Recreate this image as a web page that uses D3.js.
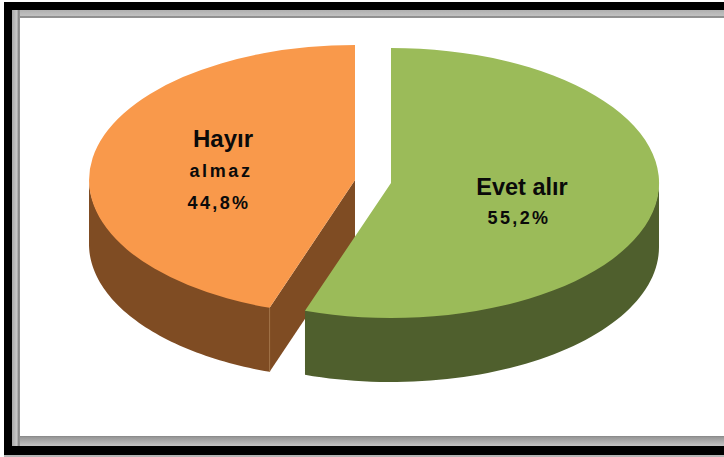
<!DOCTYPE html>
<html>
<head>
<meta charset="utf-8">
<script src="https://cdn.jsdelivr.net/npm/d3@7"></script>
<style>
  html, body { margin: 0; padding: 0; background: #fff; }
  svg { display: block; }
  text { font-family: "Liberation Sans", Arial, sans-serif; font-weight: bold; fill: #0a0a0a; text-anchor: middle; }
</style>
</head>
<body>
<div id="chart"></div>
<script>
var categories = ["Evet alır", "Hayır almaz"];
var shares = [55.2, 44.8];
var shareLabels = ["55,2%", "44,8%"];

var width = 724, height = 457;
var depth = 64, ry = 135;
// exploded slices, each has its own centre
var centres = [{x: 391, y: 183, rx: 268}, {x: 355, y: 180, rx: 266}];
var topColors = ["#9bbb59", "#f9994b"];
var sideColors = ["#4f5f2d", "#7f4c23"];

var svg = d3.select("#chart").append("svg")
    .attr("width", width)
    .attr("height", height);

var defs = svg.append("defs");

function grad(id, x2, y2, stops) {
  var g = defs.append("linearGradient").attr("id", id)
      .attr("x1", 0).attr("y1", 0).attr("x2", x2).attr("y2", y2);
  stops.forEach(function(s) {
    g.append("stop").attr("offset", s[0]).attr("stop-color", s[1]);
  });
}
grad("bevelTop", 0, 1, [[0, "#b0b0b0"], [0.7, "#c0c0c0"], [0.85, "#7f7f7f"], [1, "#a0a0a0"]]);
grad("bevelLeft", 1, 0, [[0, "#a8a8a8"], [0.6, "#c8c8c8"], [0.85, "#7f7f7f"], [1, "#a0a0a0"]]);
grad("bevelBottom", 0, 1, [[0, "#858585"], [0.15, "#989898"], [1, "#c4c4c4"]]);

// frame
svg.append("rect").attr("x", 4).attr("y", 2).attr("width", width).attr("height", 453).attr("fill", "#000");
svg.append("rect").attr("x", 4).attr("y", 455).attr("width", width).attr("height", 2).attr("fill", "#b5b5b5");
svg.append("rect").attr("x", 12).attr("y", 10).attr("width", width).attr("height", 436).attr("fill", "#b8b8b8");
svg.append("rect").attr("x", 12).attr("y", 10).attr("width", width).attr("height", 8).attr("fill", "url(#bevelTop)");
svg.append("rect").attr("x", 12).attr("y", 10).attr("width", 8).attr("height", 436).attr("fill", "url(#bevelLeft)");
svg.append("rect").attr("x", 20).attr("y", 436).attr("width", width).attr("height", 10).attr("fill", "url(#bevelBottom)");
svg.append("rect").attr("x", 20).attr("y", 18).attr("width", width).attr("height", 418).attr("fill", "#fff");

var pie = d3.pie().sort(null)(shares);

var arc = d3.arc().innerRadius(0).outerRadius(1);

function ex(c, a) { return c.x + c.rx * Math.sin(a); }
function ey(c, a) { return c.y - ry * Math.cos(a); }

// outer wall, only the front half of the ellipse shows
// starts a bit above the rim so no white seam shows under the top
var wall = d3.area()
    .x(function(d) { return d.x; })
    .y0(function(d) { return d.y - 1.5; })
    .y1(function(d) { return d.y + depth; });

function wallPoints(i) {
  var c = centres[i];
  var a0 = Math.max(pie[i].startAngle, Math.PI / 2);
  var a1 = Math.min(pie[i].endAngle, Math.PI * 1.5);
  var pts = d3.range(0, 61).map(function(k) {
    var a = a0 + (a1 - a0) * k / 60;
    return {x: ex(c, a), y: ey(c, a)};
  });
  return pts;
}

function drawSlice(i) {
  var c = centres[i], d = pie[i];

  svg.append("path")
      .attr("d", wall(wallPoints(i)))
      .attr("fill", sideColors[i]);

  // cut face of the orange slice, seen from the front
  if (i === 1) {
    var bx = ex(c, d.startAngle), by = ey(c, d.startAngle);
    svg.append("path")
        .attr("d", d3.line()([[c.x, c.y], [bx, by], [bx, by + depth], [c.x, c.y + depth]]) + "Z")
        .attr("fill", sideColors[i]);
    svg.append("line")
        .attr("x1", bx).attr("y1", by)
        .attr("x2", bx).attr("y2", by + depth)
        .attr("stroke", "#a0703f")
        .attr("stroke-width", 0.8);
  }

  svg.append("path")
      .attr("d", arc(d))
      .attr("transform", "translate(" + c.x + "," + c.y + ") scale(" + c.rx + "," + ry + ")")
      .attr("fill", topColors[i]);
}

drawSlice(1);
drawSlice(0);

function label(txt, x, y, size, spacing) {
  svg.append("text")
      .attr("x", x).attr("y", y)
      .attr("font-size", size)
      .attr("letter-spacing", spacing)
      .text(txt);
}

var hayir = categories[1].split(" ");
label(hayir[0], 223, 147, 24, 0);
label(hayir[1], 221, 177, 18, 2.6);
label(shareLabels[1], 219, 209, 18, 2.4);
label(categories[0], 522, 195, 23.5, 0);
label(shareLabels[0], 519, 224, 18, 2.4);
</script>
</body>
</html>
